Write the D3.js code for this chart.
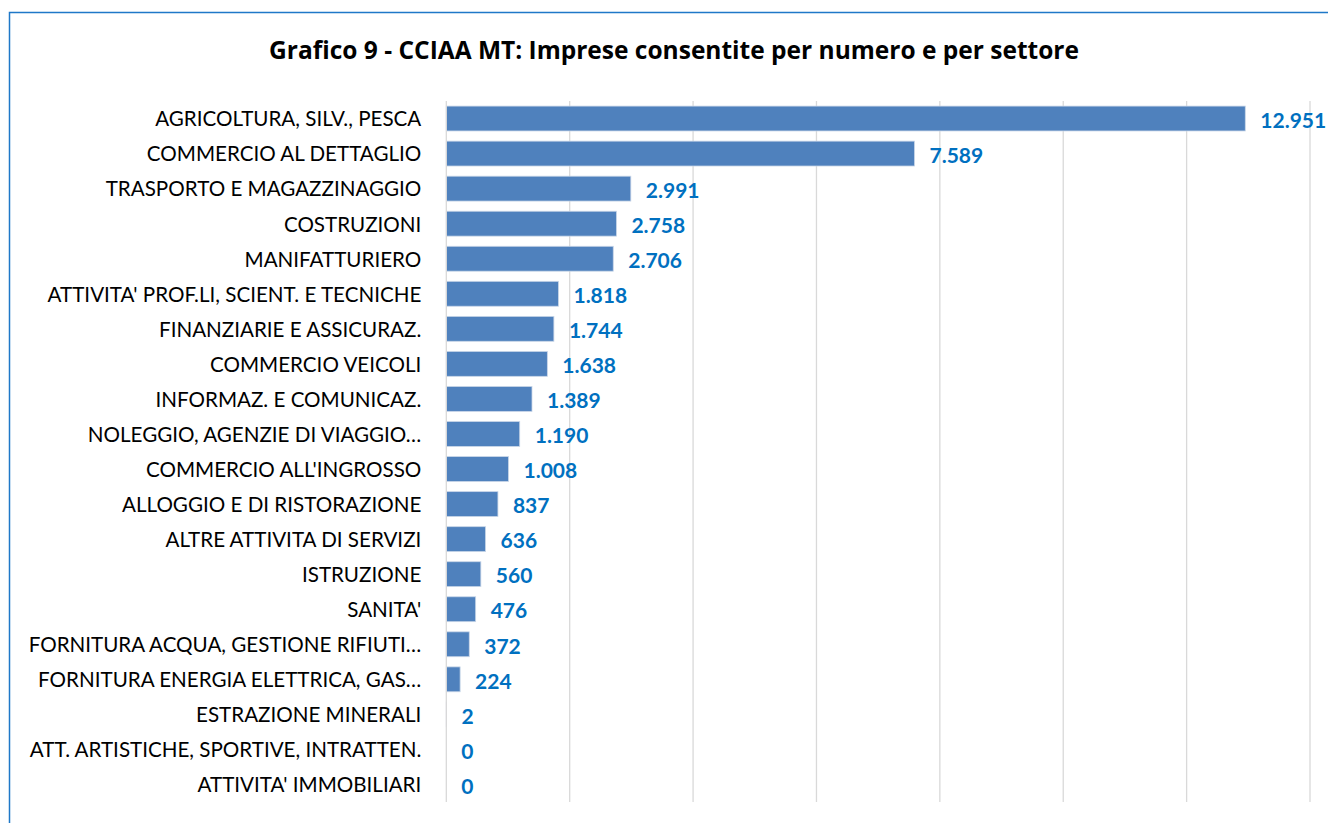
<!DOCTYPE html>
<html><head><meta charset="utf-8">
<script src="https://cdn.jsdelivr.net/npm/d3@7"></script>
<style>body{margin:0;background:#fff}svg{display:block}</style>
</head><body>
<script>
const categories = ["AGRICOLTURA, SILV., PESCA","COMMERCIO AL DETTAGLIO","TRASPORTO E MAGAZZINAGGIO","COSTRUZIONI","MANIFATTURIERO","ATTIVITA' PROF.LI, SCIENT. E TECNICHE","FINANZIARIE E ASSICURAZ.","COMMERCIO VEICOLI","INFORMAZ. E COMUNICAZ.","NOLEGGIO, AGENZIE DI VIAGGIO…","COMMERCIO ALL'INGROSSO","ALLOGGIO E DI RISTORAZIONE","ALTRE ATTIVITA DI SERVIZI","ISTRUZIONE","SANITA'","FORNITURA ACQUA, GESTIONE RIFIUTI…","FORNITURA ENERGIA ELETTRICA, GAS…","ESTRAZIONE MINERALI","ATT. ARTISTICHE, SPORTIVE, INTRATTEN.","ATTIVITA' IMMOBILIARI"];
const values = [12951,7589,2991,2758,2706,1818,1744,1638,1389,1190,1008,837,636,560,476,372,224,2,0,0];
const tickValues = [0,2000,4000,6000,8000,10000,12000,14000];
const title = "Grafico 9 - CCIAA MT: Imprese consentite per numero e per settore";

const W = 1328, H = 823;
const svg = d3.select("body").append("svg").attr("width", W).attr("height", H);
svg.append("rect").attr("x", 9.5).attr("y", 12.5).attr("width", W).attr("height", H)
  .attr("fill", "#fff").attr("stroke", "#1F78C8").attr("stroke-width", 1.5);

const x = d3.scaleLinear().domain([0, 14000]).range([446.3, 1310]);
const y = d3.scaleBand().domain(categories).range([101, 802]).paddingInner(0.29).paddingOuter(0.145);
const fmt = d3.formatLocale({decimal: ",", thousands: ".", grouping: [3], currency: ["", "€"]}).format(",d");
const FONT = "Lato, 'Open Sans', sans-serif";

svg.append("text").attr("x", 674).attr("y", 59).attr("text-anchor", "middle")
  .attr("font-family", "'Open Sans', Lato, sans-serif").attr("font-weight", "bold").attr("font-size", 24.5)
  .attr("fill", "#000").text(title);

// gridlines
svg.append("g").selectAll("line").data(tickValues.slice(1)).join("line")
  .attr("x1", d => x(d)).attr("x2", d => x(d)).attr("y1", 101).attr("y2", 802)
  .attr("stroke", "#d9d9d9").attr("stroke-width", 1.3);

// bars
svg.append("g").selectAll("rect").data(values).join("rect")
  .attr("x", x(0)).attr("y", (d, i) => y(categories[i]))
  .attr("width", d => x(d) - x(0)).attr("height", y.bandwidth())
  .attr("fill", "#4F81BD").attr("stroke", "#c9d6e8").attr("stroke-width", 0.8);

// axis line
svg.append("line").attr("x1", x(0)).attr("x2", x(0)).attr("y1", 101).attr("y2", 802)
  .attr("stroke", "#d9d9d9").attr("stroke-width", 1.3);

// category labels via axis
const ax = svg.append("g").attr("transform", `translate(${x(0) - 17},0)`)
  .call(d3.axisLeft(y).tickSize(0).tickPadding(8));
ax.select(".domain").remove();
ax.selectAll("text").attr("font-family", FONT).attr("font-size", 20.6).attr("fill", "#000").attr("dy", "0.38em");

// value labels
svg.append("g").selectAll("text").data(values).join("text")
  .attr("x", d => x(d) + 15).attr("y", (d, i) => y(categories[i]) + y.bandwidth() / 2)
  .attr("dy", "0.44em")
  .attr("font-family", FONT).attr("font-weight", "bold").attr("font-size", 21)
  .attr("fill", "#0070C0").text(d => fmt(d));
</script>
</body></html>
